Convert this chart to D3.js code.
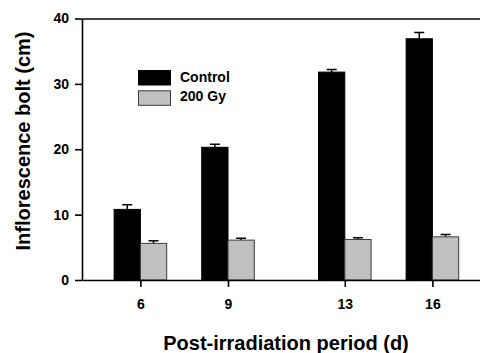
<!DOCTYPE html>
<html>
<head>
<meta charset="utf-8">
<script src="https://cdn.jsdelivr.net/npm/d3@7"></script>
<style>
  body { margin: 0; background: #fff; }
  svg { display: block; font-family: "Liberation Sans", Arial, sans-serif; font-weight: bold; }
</style>
</head>
<body>
<div id="chart"></div>
<script>
// data
const days = [6, 9, 13, 16];
const control = [10.8, 20.3, 31.8, 36.9];
const controlErr = [0.7, 0.45, 0.4, 0.95];
const gy200 = [5.6, 6.1, 6.2, 6.6];
const gy200Err = [0.4, 0.3, 0.25, 0.35];
const yTicks = [0, 10, 20, 30, 40];
const seriesNames = ['Control', '200 Gy'];

const width = 480, height = 353;
const mLeft = 82, mTop = 18.5, mBottom = 280;

const svg = d3.select('#chart').append('svg')
  .attr('width', width)
  .attr('height', height);

const x = d3.scaleLinear().domain([4, 18]).range([mLeft, mLeft + 14 * 29.2]);
const y = d3.scaleLinear().domain([0, 40]).range([mBottom, mTop]);
const barW = x(4.9) - x(4);

// bars
const series = [
  { vals: control, err: controlErr, fill: '#000', stroke: '#000', off: -barW },
  { vals: gy200, err: gy200Err, fill: '#c0c0c0', stroke: '#3a3a3a', off: 0 }
];

series.forEach(s => {
  const g = svg.append('g');
  g.selectAll('path.err')
    .data(days)
    .enter()
    .append('path')
    .attr('class', 'err')
    .attr('d', (d, i) => {
      const cx = x(d) + s.off + barW / 2;
      const yt = y(s.vals[i] + s.err[i]);
      return 'M' + cx + ',' + y(s.vals[i]) + 'V' + yt + 'M' + (cx - 5) + ',' + yt + 'H' + (cx + 5);
    })
    .style('fill', 'none')
    .style('stroke', '#000')
    .style('stroke-width', 1.5);
  g.selectAll('rect')
    .data(days)
    .enter()
    .append('rect')
    .attr('x', d => x(d) + s.off)
    .attr('y', (d, i) => y(s.vals[i]))
    .attr('width', barW)
    .attr('height', (d, i) => y(0) - y(s.vals[i]))
    .style('fill', s.fill)
    .style('stroke', s.stroke)
    .style('stroke-width', 1);
});

// axes
const yAxis = svg.append('g')
  .attr('transform', 'translate(' + mLeft + ',0)')
  .call(d3.axisLeft(y).tickValues(yTicks).tickSize(7).tickSizeOuter(0).tickPadding(6));
const xAxis = svg.append('g')
  .attr('transform', 'translate(0,' + mBottom + ')')
  .call(d3.axisBottom(x).tickValues(days).tickSize(7).tickSizeOuter(0).tickPadding(12));
const xTop = svg.append('g')
  .attr('transform', 'translate(0,' + mTop + ')')
  .call(d3.axisTop(x).tickValues([]).tickSizeOuter(0));

[yAxis, xAxis, xTop].forEach(a => {
  a.selectAll('path, line').style('stroke', '#000').style('stroke-width', 1.6);
  a.selectAll('text').style('font-size', '14px').style('font-weight', 'bold').style('font-family', '"Liberation Sans", Arial, sans-serif').style('fill', '#000');
});

// legend
const legend = svg.append('g');
series.forEach((s, i) => {
  legend.append('rect')
    .attr('x', 138.5)
    .attr('y', 70.5 + i * 20.3)
    .attr('width', 32)
    .attr('height', 14.5)
    .style('fill', s.fill)
    .style('stroke', s.stroke)
    .style('stroke-width', 1);
  legend.append('text')
    .attr('x', 180)
    .attr('y', 82 + i * 19.3)
    .style('font-size', '14px')
    .text(seriesNames[i]);
});

// titles
svg.append('text')
  .attr('x', 286)
  .attr('y', 350)
  .style('text-anchor', 'middle')
  .style('font-size', '20px')
  .text('Post-irradiation period (d)');

svg.append('text')
  .attr('transform', 'translate(30,141) rotate(-90)')
  .style('text-anchor', 'middle')
  .style('font-size', '20px')
  .text('Inflorescence bolt (cm)');
</script>
</body>
</html>
